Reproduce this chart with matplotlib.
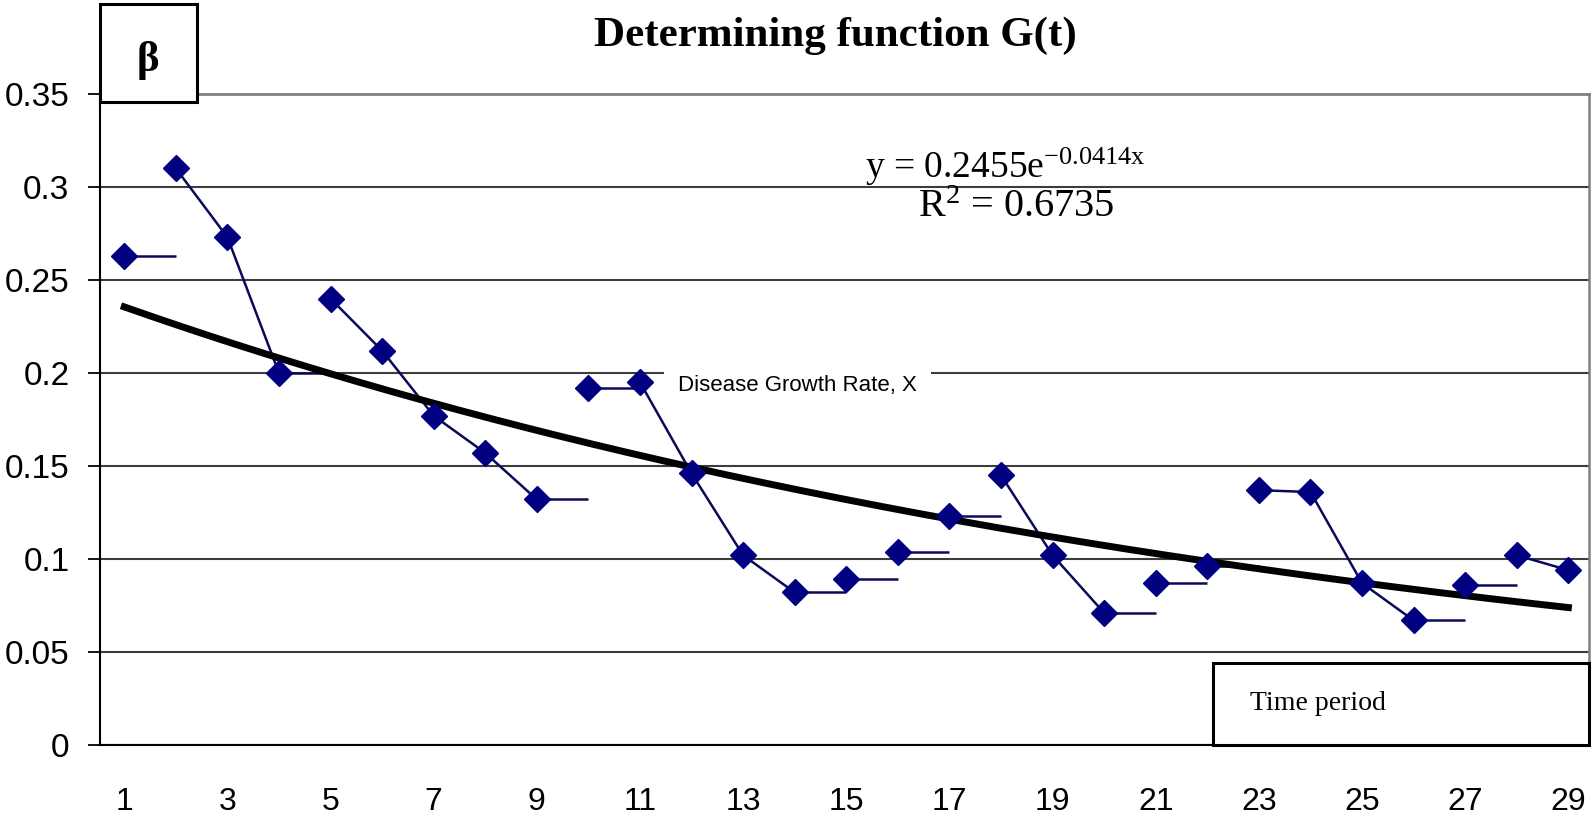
import numpy as np
import matplotlib
matplotlib.use("Agg")
import matplotlib.pyplot as plt
from matplotlib.patches import Rectangle

# ---------------- data ----------------
periods = list(range(1, 30))
beta = [0.263, 0.310, 0.273, 0.200, 0.240, 0.212, 0.177, 0.157, 0.132, 0.192,
        0.195, 0.146, 0.102, 0.082, 0.089, 0.104, 0.123, 0.145, 0.102, 0.071,
        0.087, 0.096, 0.137, 0.136, 0.087, 0.067, 0.086, 0.102, 0.094]
# segment from period i to i+1: True = joined to next point, False = flat stub
joined = [False, True, True, False, True, True, True, True, False, False,
          True, True, True, False, False, False, False, True, True, False,
          False, False, True, True, True, False, False, True]
trend_a = 0.2455
trend_b = -0.0414
r_squared = 0.6735
y_ticks = [0, 0.05, 0.1, 0.15, 0.2, 0.25, 0.3, 0.35]
y_tick_labels = ["0", "0.05", "0.1", "0.15", "0.2", "0.25", "0.3", "0.35"]
x_tick_values = periods[::2]
x_tick_labels = [str(v) for v in x_tick_values]
title = "Determining function G(t)"
series_name = "Disease Growth Rate, X"
x_label = "Time period"
y_label = "β"

# ---------------- figure ----------------
W, H = 1594, 816
fig = plt.figure(figsize=(W / 100, H / 100), dpi=100)
plt.rcParams['mathtext.fontset'] = 'custom'
plt.rcParams['mathtext.rm'] = 'Liberation Serif'
plt.rcParams['mathtext.it'] = 'Liberation Serif:italic'

def fx(x):
    return x / W

def fy(y):
    return 1 - y / H

ax_l, ax_r, ax_t, ax_b = 100, 1589, 94, 745
ax = fig.add_axes([fx(ax_l), fy(ax_b), (ax_r - ax_l) / W, (ax_b - ax_t) / H])

navy = "#000080"
line_col = "#0a0a58"

# segments
for i in range(len(joined)):
    x0, x1 = periods[i], periods[i + 1]
    y0 = beta[i]
    y1 = beta[i + 1] if joined[i] else beta[i]
    ax.plot([x0, x1], [y0, y1], color=line_col, lw=1.8, zorder=3,
            solid_capstyle='butt')

ax.plot(periods, beta, linestyle='none', marker='D', ms=13.5,
        color=navy, zorder=5)

# trend line (from the displayed equation)
xt = np.linspace(periods[0], periods[-1], 300)
ax.plot(xt, trend_a * np.exp(trend_b * xt), color='black', lw=5, zorder=4)

ax.set_xlim(0.53, 29.4)
ax.set_ylim(0, 0.35)
ax.set_yticks(y_ticks)
ax.set_yticklabels(y_tick_labels, fontfamily='Liberation Sans', fontsize=24)
ax.set_xticks(x_tick_values)
ax.set_xticklabels(x_tick_labels, fontfamily='Liberation Sans', fontsize=23)
ax.tick_params(axis='y', length=9, width=1.3, pad=13, color='black')
ax.tick_params(axis='x', length=0, pad=30)

ax.yaxis.grid(True, color='#3c3c3c', lw=1.5, zorder=1)
ax.set_axisbelow(True)
for s in ['left', 'bottom']:
    ax.spines[s].set_color('black')
    ax.spines[s].set_linewidth(1.5)
ax.spines['top'].set_color('#808080')
ax.spines['top'].set_linewidth(2)
ax.spines['right'].set_color('#808080')
ax.spines['right'].set_linewidth(1.8)

# title
fig.text(fx(835), fy(36), title, ha='center', va='center',
         fontfamily='Liberation Serif', fontweight='bold', fontsize=31)

# beta box
fig.patches.append(Rectangle((fx(100), fy(102)), (197 - 100) / W, (102 - 4) / H,
                             transform=fig.transFigure, facecolor='white',
                             edgecolor='black', lw=2.2, zorder=10))
fig.text(fx(148), fy(60), y_label, ha='center', va='center',
         fontfamily='Liberation Serif', fontweight='bold', fontsize=31, zorder=11)

# equation
fig.text(fx(1005), fy(178),
         r'y = 0.2455e$^{\mathrm{-0.0414x}}$', ha='center', va='baseline',
         fontfamily='Liberation Serif', fontsize=27)
fig.text(fx(1016), fy(217), r'R$^{\mathrm{2}}$ = ' + f'{r_squared:.4f}',
         ha='center', va='baseline', fontfamily='Liberation Serif', fontsize=29)

# legend label with white box
fig.text(fx(678), fy(385), series_name, ha='left', va='center',
         fontfamily='Liberation Sans', fontsize=16,
         zorder=9,
         bbox=dict(facecolor='white', edgecolor='none', pad=10))

# time period box
fig.patches.append(Rectangle((fx(1213), fy(745)), (1589 - 1213) / W, (745 - 663) / H,
                             transform=fig.transFigure, facecolor='white',
                             edgecolor='black', lw=2.2, zorder=10))
fig.text(fx(1250), fy(704), x_label, ha='left', va='center',
         fontfamily='Liberation Serif', fontsize=20, zorder=11)

fig.savefig("out.png", dpi=100)
